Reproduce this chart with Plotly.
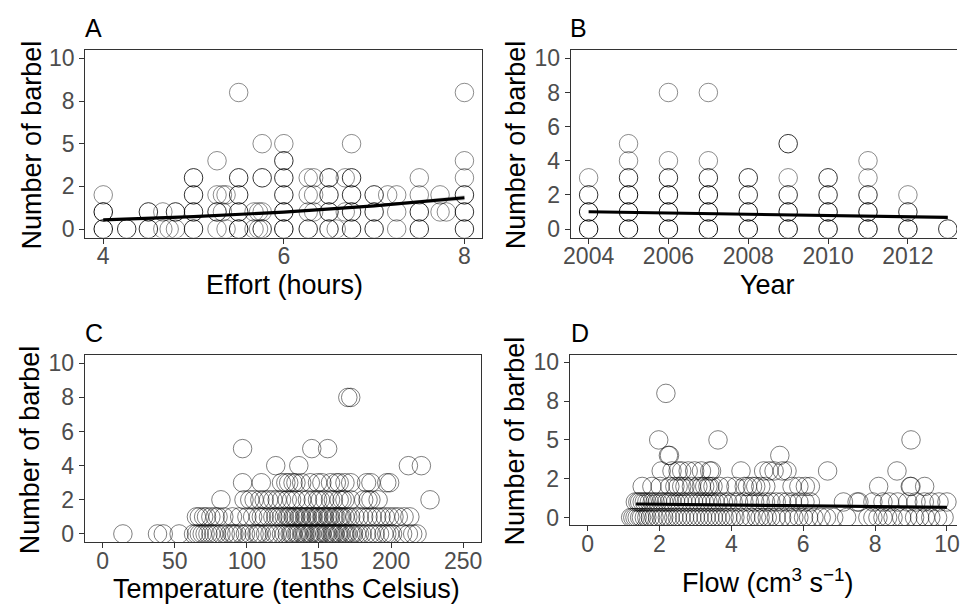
import plotly.graph_objects as go

# ---------------- data ----------------
# Panel A: effort (hours) vs number of barbel; n_a = overlapping observations
effort = [4.0, 4.0, 4.0, 4.26, 4.5, 4.5, 4.66, 4.66, 4.73, 4.8, 4.8,
          5.0, 5.0, 5.0, 5.0, 5.26, 5.26, 5.26, 5.26, 5.32, 5.32, 5.36, 5.36,
          5.5, 5.5, 5.5, 5.5, 5.5, 5.67, 5.67, 5.72, 5.72, 5.76, 5.76, 5.76, 5.76,
          6.0, 6.0, 6.0, 6.0, 6.0, 6.0, 6.27, 6.27, 6.27, 6.27, 6.33, 6.33, 6.33,
          6.5, 6.5, 6.5, 6.5, 6.58, 6.68, 6.68, 6.75, 6.75, 6.75, 6.75, 6.75,
          7.0, 7.0, 7.0, 7.15, 7.25, 7.25, 7.25, 7.5, 7.5, 7.5, 7.5, 7.73, 7.73, 7.8,
          8.0, 8.0, 8.0, 8.0, 8.0, 8.0]
count_a = [0, 1, 2, 0, 0, 1, 0, 1, 0, 0, 1,
           0, 1, 2, 3, 0, 1, 2, 4, 1, 2, 0, 2,
           0, 1, 2, 3, 8, 0, 1, 0, 1, 0, 1, 3, 5,
           0, 1, 2, 3, 4, 5, 0, 1, 2, 3, 1, 2, 3,
           0, 1, 2, 3, 0, 1, 3, 0, 1, 2, 3, 5,
           0, 1, 2, 2, 0, 1, 2, 0, 1, 2, 3, 1, 2, 1,
           0, 1, 2, 3, 4, 8]
n_a = [3, 3, 1, 2, 2, 2, 1, 1, 1, 1, 2,
       2, 2, 2, 2, 1, 2, 1, 1, 1, 1, 1, 1,
       3, 2, 2, 2, 1, 1, 1, 1, 1, 2, 1, 2, 1,
       3, 3, 2, 2, 2, 1, 2, 1, 1, 1, 1, 1, 1,
       2, 2, 2, 2, 1, 1, 1, 2, 2, 2, 2, 1,
       2, 2, 2, 1, 1, 1, 1, 2, 2, 1, 1, 1, 1, 1,
       2, 2, 2, 1, 1, 1]
fit_a_x = [4, 5, 6, 7, 8]
fit_a_y = [0.54, 0.73, 0.99, 1.35, 1.83]
fit_a_lo = [0.50, 0.70, 0.96, 1.28, 1.68]
fit_a_hi = [0.58, 0.76, 1.02, 1.42, 1.98]

# Panel B: year vs number of barbel
year = [2004, 2004, 2004, 2004,
        2005, 2005, 2005, 2005, 2005, 2005,
        2006, 2006, 2006, 2006, 2006, 2006,
        2007, 2007, 2007, 2007, 2007, 2007,
        2008, 2008, 2008, 2008,
        2009, 2009, 2009, 2009, 2009,
        2010, 2010, 2010, 2010,
        2011, 2011, 2011, 2011, 2011,
        2012, 2012, 2012,
        2013]
count_b = [0, 1, 2, 3,
           0, 1, 2, 3, 4, 5,
           0, 1, 2, 3, 4, 8,
           0, 1, 2, 3, 4, 8,
           0, 1, 2, 3,
           0, 1, 2, 3, 5,
           0, 1, 2, 3,
           0, 1, 2, 3, 4,
           0, 1, 2,
           0]
n_b = [3, 3, 2, 1,
       3, 3, 3, 2, 1, 1,
       3, 3, 3, 2, 1, 1,
       3, 3, 3, 2, 1, 1,
       3, 3, 2, 2,
       3, 3, 2, 1, 2,
       3, 3, 2, 2,
       3, 3, 2, 1, 1,
       3, 2, 1,
       2]
fit_b_x = [2004, 2005, 2006, 2007, 2008, 2009, 2010, 2011, 2012, 2013]
fit_b_y = [1.01, 0.97, 0.93, 0.89, 0.85, 0.82, 0.78, 0.75, 0.71, 0.68]

# Panel C: temperature (tenths Celsius) vs number of barbel
temp0 = [14, 38, 42, 53, 63, 65, 67, 69, 71, 73, 75, 77, 79, 82, 85, 88, 90, 91, 93,
         96, 99, 102, 105, 107, 108, 110, 113, 116, 119, 121, 124, 126, 128, 130,
         131, 132, 134, 135, 136, 138, 139, 140, 141, 143, 144, 145, 147, 148, 149,
         150, 151, 152, 154, 155, 156, 158, 159, 160, 161, 163, 164, 165, 167, 168,
         169, 170, 172, 173, 174, 176, 178, 180, 183, 186, 189, 192, 195, 197, 199,
         201, 208, 212, 215, 218]
temp1 = [65, 67, 70, 72, 75, 78, 80, 84, 90, 95, 100, 104, 108, 110, 112, 115, 118,
         120, 122, 124, 126, 128, 129, 130, 132, 133, 134, 136, 137, 138, 140, 141,
         142, 144, 145, 146, 148, 149, 150, 152, 153, 154, 156, 157, 158, 160, 161,
         162, 164, 165, 166, 168, 170, 172, 175, 178, 181, 184, 187, 190, 193, 196,
         199, 202, 205, 209, 213]
temp2 = [82, 98, 102, 105, 109, 112, 115, 118, 121, 124, 128, 131, 134, 138, 142,
         146, 149, 151, 154, 158, 160, 164, 166, 168, 172, 181, 184, 186, 191, 227]
temp3 = [97, 110, 124, 127, 129, 132, 134, 138, 144, 149, 152, 158, 162, 164, 168,
         172, 183, 186, 197, 199]
temp4 = [120, 136, 212, 221]
temp5 = [97, 145, 156]
temp8 = [170, 172]

# Panel D: flow vs number of barbel
flow0 = [1.2, 1.26, 1.32, 1.38, 1.45, 1.5, 1.58, 1.65, 1.75, 1.85, 1.95, 2.05, 2.12,
         2.22, 2.3, 2.4, 2.5, 2.6, 2.7, 2.8, 2.9, 3.0, 3.1, 3.2, 3.3, 3.4, 3.5, 3.6,
         3.7, 3.8, 3.9, 4.0, 4.1, 4.25, 4.4, 4.55, 4.7, 4.8, 4.9, 5.0, 5.1, 5.25, 5.4,
         5.6, 5.74, 5.88, 6.01, 6.15, 6.3, 6.5, 6.65, 6.85, 7.21, 7.8, 7.94, 8.08,
         8.22, 8.35, 8.5, 8.74, 8.91, 9.1, 9.24, 9.4, 9.55, 9.74, 9.92]
flow1 = [1.33, 1.4, 1.45, 1.52, 1.58, 1.65, 1.72, 1.8, 1.88, 1.95, 2.05, 2.12, 2.2,
         2.28, 2.35, 2.45, 2.55, 2.65, 2.75, 2.85, 2.95, 3.05, 3.15, 3.25, 3.35, 3.45,
         3.55, 3.65, 3.78, 3.9, 4.05, 4.2, 4.35, 4.5, 4.65, 4.8, 4.95, 5.1, 5.25, 5.4,
         5.55, 5.7, 5.88, 6.05, 6.2, 7.12, 7.5, 7.55, 7.94, 8.22, 8.4, 8.63, 8.91,
         9.14, 9.37, 9.55, 9.78, 10.0]
flow2 = [1.52, 1.79, 2.02, 2.29, 2.43, 2.52, 2.62, 2.71, 2.89, 3.07, 3.17, 3.26, 3.35,
         3.4, 3.49, 3.67, 3.9, 4.13, 4.36, 4.45, 4.59, 4.68, 4.82, 4.96, 5.69, 5.88,
         6.06, 6.2, 8.1, 8.98, 9.0, 9.38]
flow3 = [2.05, 2.35, 2.52, 2.62, 2.8, 2.98, 3.17, 3.4, 3.45, 4.27, 4.9, 5.05, 5.19,
         5.42, 5.55, 6.68, 8.61]
flow4 = [2.25, 2.28, 5.35]
flow5 = [1.98, 3.63, 9.0]
flow8 = [2.18]
fit_d_x = [1.35, 4, 6, 8, 10]
fit_d_y = [0.87, 0.80, 0.75, 0.70, 0.66]
fit_d_lo = [0.82, 0.77, 0.72, 0.65, 0.58]
fit_d_hi = [0.92, 0.83, 0.78, 0.75, 0.74]

# tick labels
y_ticks_ab = [0, 2, 4, 6, 8, 10]
y_tickvals_sq = [0, 2.5, 5, 7.5, 10]
y_ticktext_sq = ["0", "2", "5", "8", "10"]

# ---------------- style ----------------
FONT = "Liberation Sans, Arial, sans-serif"
TICK_FONT = dict(family=FONT, size=23, color="#4D4D4D")
TITLE_FONT = dict(family=FONT, size=27, color="black")
TAG_FONT = dict(family=FONT, size=25, color="black")
MSIZE = 18.5
W, H = 960, 611


def alpha_for(n):
    return {1: 0.45, 2: 0.8}.get(n, 0.95)


def px2x(px):
    return px / W


def px2y(py):
    return 1 - py / H


fig = go.Figure()


def add_points(x, y, xa, ya, colors):
    fig.add_trace(go.Scatter(
        x=x, y=y, mode="markers", xaxis=xa, yaxis=ya, showlegend=False,
        marker=dict(symbol="circle-open", size=MSIZE, color=colors,
                    line=dict(width=1)),
        hoverinfo="skip"))


def add_ribbon(x, lo, hi, xa, ya):
    fig.add_trace(go.Scatter(
        x=list(x) + list(x)[::-1], y=list(hi) + list(lo)[::-1], fill="toself",
        mode="lines", line=dict(width=0), fillcolor="rgba(150,150,150,0.45)",
        xaxis=xa, yaxis=ya, showlegend=False, hoverinfo="skip"))


def add_line(x, y, xa, ya):
    fig.add_trace(go.Scatter(
        x=x, y=y, mode="lines", line=dict(color="black", width=3.2),
        xaxis=xa, yaxis=ya, showlegend=False, hoverinfo="skip"))


# Panel A
add_ribbon(fit_a_x, fit_a_lo, fit_a_hi, "x", "y")
add_points(effort, count_a, "x", "y",
           [f"rgba(0,0,0,{alpha_for(n)})" for n in n_a])
add_line(fit_a_x, fit_a_y, "x", "y")

# Panel B
add_points(year, count_b, "x2", "y2",
           [f"rgba(0,0,0,{alpha_for(n)})" for n in n_b])
add_line(fit_b_x, fit_b_y, "x2", "y2")

# Panel C
c_col = "rgba(0,0,0,0.5)"
for xs, yv in [(temp0, 0), (temp1, 1), (temp2, 2), (temp3, 3), (temp4, 4),
               (temp5, 5), (temp8, 8)]:
    add_points(xs, [yv] * len(xs), "x3", "y3", c_col)

# Panel D
add_ribbon(fit_d_x, fit_d_lo, fit_d_hi, "x4", "y4")
for xs, yv in [(flow0, 0), (flow1, 1), (flow2, 2), (flow3, 3), (flow4, 4),
               (flow5, 5), (flow8, 8)]:
    add_points(xs, [yv] * len(xs), "x4", "y4", c_col)
add_line(fit_d_x, fit_d_y, "x4", "y4")

AX = dict(showline=True, linecolor="#333333", linewidth=1, ticks="outside",
          ticklen=5, tickcolor="#333333", tickwidth=1, showgrid=False,
          zeroline=False, tickfont=TICK_FONT)
XAX = dict(AX, ticklabelstandoff=-7)

top_y = [45.6, 236.4]
bot_c = [355.6, 546.4]
bot_d = [355.4, 528.9]

fig.update_layout(
    width=W, height=H, autosize=False,
    margin=dict(l=0, r=0, t=0, b=0),
    paper_bgcolor="white", plot_bgcolor="white",
    xaxis=dict(XAX, domain=[px2x(79.0), px2x(480.5)], range=[3.8, 8.2],
               tickvals=[4, 6, 8], anchor="y", mirror=True),
    yaxis=dict(AX, domain=[px2y(top_y[1]), px2y(top_y[0])], range=[-0.5, 10.5],
               tickvals=y_tickvals_sq, ticktext=y_ticktext_sq, anchor="x",
               mirror=True),
    xaxis2=dict(XAX, domain=[px2x(569.6), 1.0], range=[2003.55, 2013.23],
                tickvals=[2004, 2006, 2008, 2010, 2012], anchor="y2", mirror=True),
    yaxis2=dict(AX, domain=[px2y(top_y[1]), px2y(top_y[0])], range=[-0.5, 10.5],
                tickvals=y_ticks_ab, anchor="x2"),
    xaxis3=dict(XAX, domain=[px2x(78.5), px2x(479.2)], range=[-12.5, 262.5],
                tickvals=[0, 50, 100, 150, 200, 250], anchor="y3", mirror=True),
    yaxis3=dict(AX, domain=[px2y(bot_c[1]), px2y(bot_c[0])], range=[-0.5, 10.5],
                tickvals=y_ticks_ab, anchor="x3", mirror=True),
    xaxis4=dict(XAX, domain=[px2x(568.5), 1.0], range=[-0.5, 10.28],
                tickvals=[0, 2, 4, 6, 8, 10], anchor="y4", mirror=True,
                ticklabeloverflow="allow"),
    yaxis4=dict(AX, domain=[px2y(bot_d[1]), px2y(bot_d[0])], range=[-0.5, 10.5],
                tickvals=y_tickvals_sq, ticktext=y_ticktext_sq, anchor="x4"),
)

ann = []
# panel tags
for txt, xp, yp in [("A", 77, 23), ("B", 567, 23), ("C", 77, 333), ("D", 568, 333)]:
    ann.append(dict(text=txt, x=px2x(xp), y=px2y(yp), xref="paper", yref="paper",
                    xanchor="left", yanchor="middle", showarrow=False, font=TAG_FONT))
# y titles
for xp, yp in [(25, 142), (514, 142), (23, 452), (513, 443)]:
    ann.append(dict(text="Number of barbel", x=px2x(xp), y=px2y(yp), xref="paper",
                    yref="paper", xanchor="center", yanchor="middle", textangle=-90,
                    showarrow=False, font=TITLE_FONT))
# x titles
for txt, xp, yp in [("Effort (hours)", 280, 285), ("Year", 768, 285),
                    ("Temperature (tenths Celsius)", 282, 594),
                    ("Flow (cm<sup>3</sup> s<sup>\u22121</sup>)", 769, 586)]:
    ann.append(dict(text=txt, x=px2x(xp), y=px2y(yp), xref="paper", yref="paper",
                    xanchor="center", yanchor="middle", showarrow=False,
                    font=TITLE_FONT))
fig.update_layout(annotations=ann)

fig.write_html("out.html")
